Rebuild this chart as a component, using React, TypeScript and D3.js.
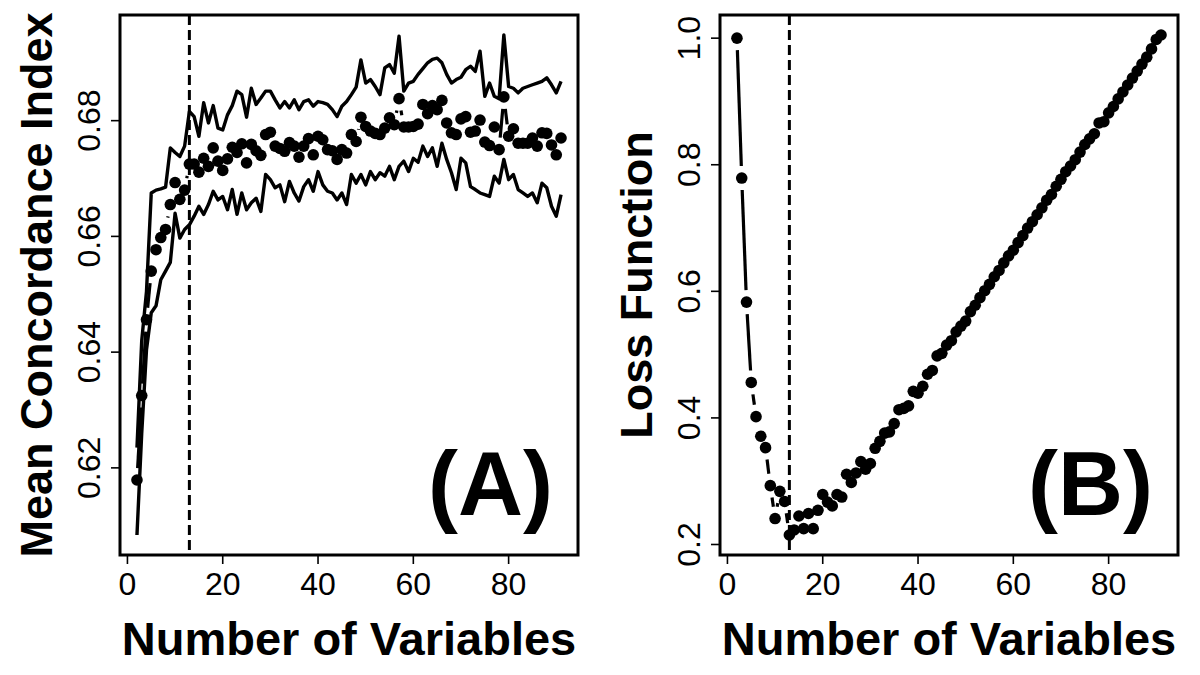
import React from 'react';
import * as d3 from 'd3';

// Number of variables (x categories)
const numVars: number[] = d3.range(2, 92);

// Panel A: mean concordance index and its band
const meanCI: number[] = [
  0.6179, 0.6325, 0.6456, 0.6540, 0.6577, 0.6598, 0.6612, 0.6655, 0.6693, 0.6664,
  0.6680, 0.6725, 0.6725, 0.6711, 0.6735, 0.6721, 0.6753, 0.6730, 0.6714, 0.6734,
  0.6754, 0.6745, 0.6760, 0.6727, 0.6759, 0.6748, 0.6740, 0.6776, 0.6780, 0.6756,
  0.6752, 0.6747, 0.6762, 0.6756, 0.6737, 0.6756, 0.6769, 0.6741, 0.6773, 0.6767,
  0.6750, 0.6748, 0.6733, 0.6750, 0.6744, 0.6776, 0.6764, 0.6806, 0.6790, 0.6782,
  0.6778, 0.6776, 0.6787, 0.6805, 0.6793, 0.6838, 0.6789, 0.6789, 0.6790, 0.6794,
  0.6828, 0.6812, 0.6826, 0.6819, 0.6835, 0.6796, 0.6779, 0.6776, 0.6803, 0.6807,
  0.6780, 0.6782, 0.6801, 0.6763, 0.6757, 0.6789, 0.6750, 0.6841, 0.6773, 0.6786,
  0.6761, 0.6761, 0.6761, 0.6770, 0.6756, 0.6779, 0.6778, 0.6758, 0.6741, 0.6770,
];

const upperCI: number[] = [
  0.6235, 0.6420, 0.6505, 0.6675, 0.6680, 0.6682, 0.6685, 0.6753, 0.6745, 0.6738,
  0.6756, 0.6816, 0.6807, 0.6773, 0.6831, 0.6796, 0.6826, 0.6787, 0.6784, 0.6810,
  0.6826, 0.6851, 0.6845, 0.6806, 0.6856, 0.6828, 0.6839, 0.6851, 0.6851, 0.6836,
  0.6822, 0.6833, 0.6822, 0.6836, 0.6819, 0.6833, 0.6836, 0.6825, 0.6833, 0.6831,
  0.6828, 0.6819, 0.6807, 0.6825, 0.6833, 0.6845, 0.6858, 0.6905, 0.6865, 0.6871,
  0.6859, 0.6845, 0.6891, 0.6897, 0.6882, 0.6946, 0.6851, 0.6865, 0.6868, 0.6880,
  0.6890, 0.6900, 0.6906, 0.6908, 0.6900, 0.6880, 0.6865, 0.6871, 0.6875, 0.6888,
  0.6894, 0.6885, 0.6920, 0.6842, 0.6865, 0.6842, 0.6838, 0.6948, 0.6859, 0.6856,
  0.6848, 0.6856, 0.6859, 0.6862, 0.6865, 0.6868, 0.6874, 0.6862, 0.6848, 0.6868,
];

const lowerCI: number[] = [
  0.6084, 0.6260, 0.6404, 0.6468, 0.6480, 0.6525, 0.6540, 0.6555, 0.6640, 0.6597,
  0.6612, 0.6620, 0.6635, 0.6652, 0.6638, 0.6655, 0.6678, 0.6663, 0.6669, 0.6646,
  0.6681, 0.6638, 0.6675, 0.6646, 0.6658, 0.6666, 0.6643, 0.6707, 0.6698, 0.6684,
  0.6689, 0.6660, 0.6695, 0.6675, 0.6661, 0.6686, 0.6698, 0.6678, 0.6712, 0.6689,
  0.6678, 0.6675, 0.6663, 0.6675, 0.6655, 0.6707, 0.6692, 0.6707, 0.6689, 0.6712,
  0.6698, 0.6710, 0.6704, 0.6721, 0.6698, 0.6721, 0.6730, 0.6712, 0.6735, 0.6728,
  0.6756, 0.6738, 0.6753, 0.6721, 0.6761, 0.6733, 0.6710, 0.6681, 0.6735, 0.6727,
  0.6686, 0.6681, 0.6675, 0.6672, 0.6669, 0.6704, 0.6692, 0.6733, 0.6698, 0.6707,
  0.6681, 0.6675, 0.6669, 0.6675, 0.6658, 0.6692, 0.6684, 0.6652, 0.6635, 0.6672,
];

// Panel B: loss function
const lossValues: number[] = [
  1.000, 0.779, 0.583, 0.456, 0.402, 0.371, 0.353, 0.293, 0.241, 0.284,
  0.268, 0.215, 0.223, 0.245, 0.225, 0.249, 0.225, 0.254, 0.279, 0.267,
  0.261, 0.279, 0.275, 0.311, 0.298, 0.313, 0.331, 0.319, 0.328, 0.352,
  0.363, 0.376, 0.378, 0.391, 0.413, 0.415, 0.419, 0.442, 0.439, 0.450,
  0.469, 0.475, 0.498, 0.502, 0.515, 0.522, 0.536, 0.545, 0.553, 0.568,
  0.578, 0.590, 0.601, 0.611, 0.623, 0.633, 0.645, 0.656, 0.665, 0.677,
  0.688, 0.700, 0.710, 0.721, 0.732, 0.744, 0.753, 0.766, 0.777, 0.789,
  0.798, 0.808, 0.820, 0.832, 0.841, 0.849, 0.866, 0.868, 0.882, 0.892,
  0.904, 0.915, 0.926, 0.937, 0.948, 0.959, 0.970, 0.983, 0.998, 1.005,
];

const xTicks: number[] = [0, 20, 40, 60, 80];
const yTicksA: number[] = [0.62, 0.64, 0.66, 0.68];
const yTicksB: number[] = [0.2, 0.4, 0.6, 0.8, 1.0];
const selectedVars = 13;
const xTitle = 'Number of Variables';
const yTitleA = 'Mean Concordance Index';
const yTitleB = 'Loss Function';
const tagA = '(A)';
const tagB = '(B)';

const FONT = "'Liberation Sans', Arial, Helvetica, sans-serif";
const TOP = 15;
const BOTTOM = 555;

function padDomain(ext: [number, number]): [number, number] {
  const p = (ext[1] - ext[0]) * 0.04;
  return [ext[0] - p, ext[1] + p];
}

function gappedSegments(pts: [number, number][], gap: number) {
  const segs: [number, number, number, number][] = [];
  for (let i = 0; i < pts.length - 1; i++) {
    const [x1, y1] = pts[i];
    const [x2, y2] = pts[i + 1];
    const dx = x2 - x1, dy = y2 - y1;
    const d = Math.hypot(dx, dy);
    if (d > 2 * gap) {
      const ux = dx / d, uy = dy / d;
      segs.push([x1 + ux * gap, y1 + uy * gap, x2 - ux * gap, y2 - uy * gap]);
    }
  }
  return segs;
}

type PanelProps = {
  x0: number;
  x1: number;
  yDomainData: [number, number];
  yTicks: number[];
  yFmt: (v: number) => string;
  yTitle: string;
  tag: string;
  lines: number[][];
  points: number[];
};

function Panel({ x0, x1, yDomainData, yTicks, yFmt, yTitle, tag, lines, points }: PanelProps) {
  const xScale = d3.scaleLinear().domain(padDomain(d3.extent(numVars) as [number, number])).range([x0, x1]);
  const yScale = d3.scaleLinear().domain(padDomain(yDomainData)).range([BOTTOM, TOP]);
  const lineGen = d3
    .line<number>()
    .x((_, i) => xScale(numVars[i]))
    .y((d) => yScale(d));
  const pts: [number, number][] = points.map((v, i) => [xScale(numVars[i]), yScale(v)]);
  const segs = gappedSegments(pts, 12);
  const cy = (TOP + BOTTOM) / 2;
  return (
    <g>
      {lines.map((l, k) => (
        <path key={k} d={lineGen(l) || ''} fill="none" stroke="#000" strokeWidth={3.4} strokeLinejoin="round" />
      ))}
      {segs.map((s, k) => (
        <line key={k} x1={s[0]} y1={s[1]} x2={s[2]} y2={s[3]} stroke="#000" strokeWidth={3.2} />
      ))}
      {pts.map((p, k) => (
        <circle key={k} cx={p[0]} cy={p[1]} r={5.8} fill="#000" />
      ))}
      <line
        x1={xScale(selectedVars)}
        x2={xScale(selectedVars)}
        y1={TOP}
        y2={BOTTOM}
        stroke="#000"
        strokeWidth={3}
        strokeDasharray="10,5"
      />
      <rect x={x0} y={TOP} width={x1 - x0} height={BOTTOM - TOP} fill="none" stroke="#000" strokeWidth={3} />
      {xTicks.map((t) => (
        <g key={t}>
          <line x1={xScale(t)} x2={xScale(t)} y1={BOTTOM} y2={BOTTOM + 9} stroke="#000" strokeWidth={1.6} />
          <text x={xScale(t)} y={595} fontSize={32} textAnchor="middle" fontFamily={FONT}>
            {t}
          </text>
        </g>
      ))}
      {yTicks.map((t) => (
        <g key={t}>
          <line x1={x0 - 9} x2={x0} y1={yScale(t)} y2={yScale(t)} stroke="#000" strokeWidth={1.6} />
          <text
            transform={`translate(${x0 - 20},${yScale(t)}) rotate(-90)`}
            fontSize={32}
            textAnchor="middle"
            fontFamily={FONT}
          >
            {yFmt(t)}
          </text>
        </g>
      ))}
      <text x={(x0 + x1) / 2} y={655} fontSize={47} fontWeight="bold" textAnchor="middle" fontFamily={FONT}>
        {xTitle}
      </text>
      <text
        transform={`translate(${x0 - 68},${cy}) rotate(-90)`}
        fontSize={45}
        fontWeight="bold"
        textAnchor="middle"
        fontFamily={FONT}
      >
        {yTitle}
      </text>
      <text x={x1 - 25} y={515} fontSize={90} fontWeight="bold" textAnchor="end" fontFamily={FONT}>
        {tag}
      </text>
    </g>
  );
}

export default function App() {
  const extA = [d3.min(lowerCI) as number, d3.max(upperCI) as number] as [number, number];
  const extB = d3.extent(lossValues) as [number, number];
  return (
    <svg
      width={1200}
      height={675}
      style={{ position: 'absolute', left: 0, top: 0, background: '#fff' }}
    >
      <rect x={0} y={0} width={1200} height={675} fill="#fff" />
      <Panel
        x0={120}
        x1={578}
        yDomainData={extA}
        yTicks={yTicksA}
        yFmt={d3.format('.2f')}
        yTitle={yTitleA}
        tag={tagA}
        lines={[upperCI, lowerCI]}
        points={meanCI}
      />
      <Panel
        x0={720}
        x1={1178}
        yDomainData={extB}
        yTicks={yTicksB}
        yFmt={d3.format('.1f')}
        yTitle={yTitleB}
        tag={tagB}
        lines={[]}
        points={lossValues}
      />
    </svg>
  );
}
